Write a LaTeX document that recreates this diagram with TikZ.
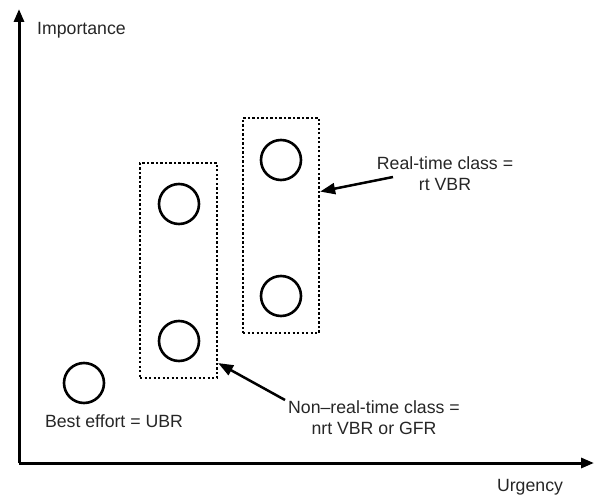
\documentclass[tikz,border=0pt]{standalone}
\usepackage{fontspec}
\setmainfont{Liberation Sans}
\usetikzlibrary{arrows.meta,calc}
\begin{document}
\begin{tikzpicture}[x=1bp,y=-1bp,
  axis/.style={line width=3bp,-{Triangle[length=13bp,width=10bp]}},
  arr/.style={line width=2.5bp,-{Triangle[length=15bp,width=11bp]}},
  dot/.style={draw,circle,line width=2.6bp,minimum size=40bp,inner sep=0pt},
  dotbox/.style={draw,rectangle,line width=2.3bp,dash pattern=on 2.2bp off 2.3bp,inner sep=0pt},
  lbl/.style={font=\fontsize{17.7bp}{21bp}\selectfont,align=center,inner sep=0pt,text=black!85}]
\useasboundingbox (0,0) rectangle (595,497);
% axes
\coordinate (o) at (19,463);
\coordinate (ytip) at (19,9);
\coordinate (xtip) at (594,463);
\draw[axis] (o) -- (ytip);
\draw[axis] (o) -- (xtip);
\node[lbl,anchor=west] (imp) at (37,30) {Importance};
\node[lbl] (urg) at (530,487) {Urgency};
% boxes
\node[dotbox,minimum width=77bp,minimum height=215bp] (lbox) at (178.5,270.5) {};
\node[dotbox,minimum width=76bp,minimum height=215bp] (rbox) at (281,225.5) {};
% circles
\node[dot] (l1) at (179,204) {};
\node[dot] (l2) at (179,341) {};
\node[dot] (r1) at (281,160) {};
\node[dot] (r2) at (281,296) {};
\node[dot] (be) at (84,383) {};
% labels
\node[lbl] (betext) at (114,421) {Best effort = UBR};
\node[lbl] (rtext) at (445,174) {Real-time class =\\rt VBR};
\node[lbl] (ntext) at (374,418) {Non–real-time class =\\nrt VBR or GFR};
% arrows
\coordinate (ra) at (393,177);
\coordinate (na) at (285,400);
\draw[arr] (ra) -- ($(rbox.north east)!0.344!(rbox.south east)$);
\draw[arr] (na) -- ($(lbox.north east)!0.926!(lbox.south east)$);
\end{tikzpicture}
\end{document}
